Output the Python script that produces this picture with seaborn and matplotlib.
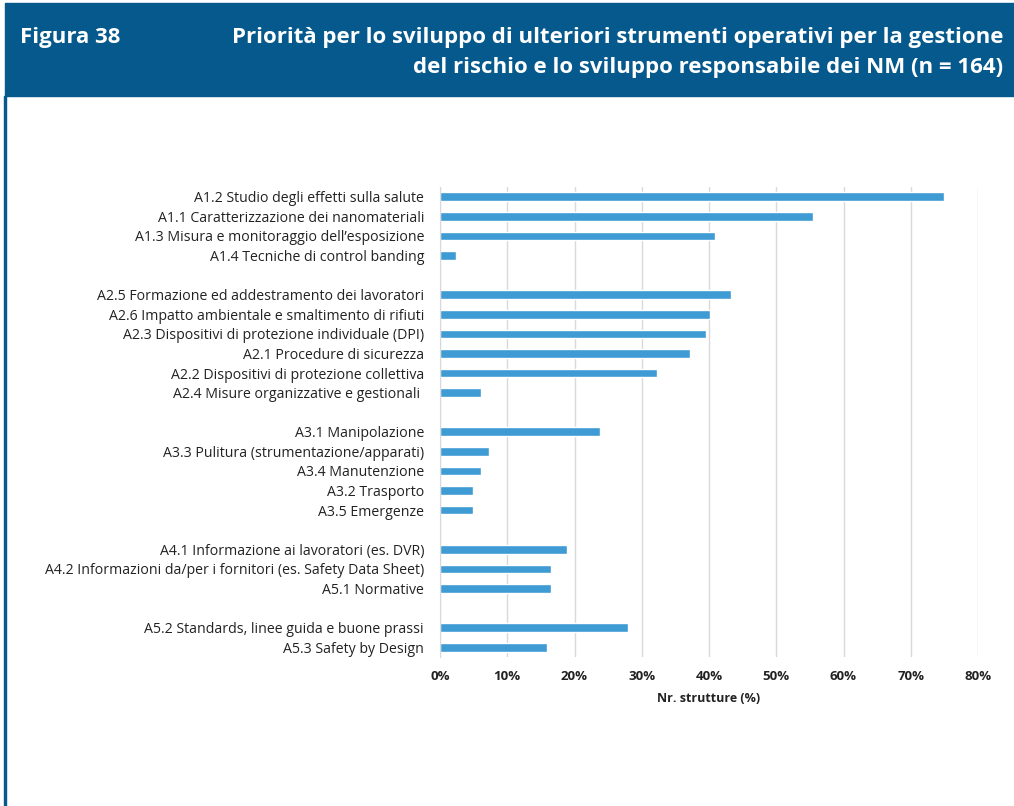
import numpy as np
import pandas as pd
import matplotlib
matplotlib.use('Agg')
import matplotlib.pyplot as plt
import seaborn as sns
from matplotlib.patches import Rectangle
from matplotlib.ticker import PercentFormatter

# Dati: categorie per gruppo (A1..A5) e percentuali
gruppo_a1 = ['A1.2 Studio degli effetti sulla salute',
             'A1.1 Caratterizzazione dei nanomateriali',
             'A1.3 Misura e monitoraggio dell\u2019esposizione',
             'A1.4 Tecniche di control banding']
valori_a1 = [75.0, 55.5, 40.9, 2.4]

gruppo_a2 = ['A2.5 Formazione ed addestramento dei lavoratori',
             'A2.6 Impatto ambientale e smaltimento di rifiuti',
             'A2.3 Dispositivi di protezione individuale (DPI)',
             'A2.1 Procedure di sicurezza',
             'A2.2 Dispositivi di protezione collettiva',
             'A2.4 Misure organizzative e gestionali ']
valori_a2 = [43.3, 40.2, 39.6, 37.2, 32.3, 6.1]

gruppo_a3 = ['A3.1 Manipolazione',
             'A3.3 Pulitura (strumentazione/apparati)',
             'A3.4 Manutenzione',
             'A3.2 Trasporto',
             'A3.5 Emergenze']
valori_a3 = [23.8, 7.3, 6.1, 4.9, 4.9]

gruppo_a4 = ['A4.1 Informazione ai lavoratori (es. DVR)',
             'A4.2 Informazioni da/per i fornitori (es. Safety Data Sheet)',
             'A5.1 Normative']
valori_a4 = [18.9, 16.5, 16.5]

gruppo_a5 = ['A5.2 Standards, linee guida e buone prassi',
             'A5.3 Safety by Design']
valori_a5 = [28.0, 15.9]

gruppi = [(gruppo_a1, valori_a1), (gruppo_a2, valori_a2), (gruppo_a3, valori_a3),
          (gruppo_a4, valori_a4), (gruppo_a5, valori_a5)]

# ordine con righe vuote tra i gruppi
ordine = []
etichette = []
righe = []
for i, (cat, val) in enumerate(gruppi):
    if i > 0:
        ordine.append('_vuoto%d' % i)
        etichette.append('')
    for c, v in zip(cat, val):
        ordine.append(c)
        etichette.append(c)
        righe.append({'voce': c, 'perc': v})
df = pd.DataFrame(righe)

sns.set_style('white')
plt.rcParams['font.family'] = ['Open Sans', 'DejaVu Sans']

W, H = 1014, 806
fig = plt.figure(figsize=(W / 100, H / 100), dpi=100)

# intestazione
blu = '#05598C'
fig.add_artist(Rectangle((5 / W, 1 - 96 / H), 1 - 5 / W, 93 / H,
                         transform=fig.transFigure, color=blu, zorder=0))
fig.add_artist(Rectangle((4 / W, 0), 2 / W, 1 - 96 / H,
                         transform=fig.transFigure, color=blu, zorder=0))
fig.text(20 / W, 1 - 38 / H, 'Figura 38', color='white', fontsize=16,
         fontweight='bold', va='center', ha='left')
fig.text(1003 / W, 1 - 38 / H,
         'Priorità per lo sviluppo di ulteriori strumenti operativi per la gestione',
         color='white', fontsize=16, fontweight='bold', va='center', ha='right')
fig.text(1003 / W, 1 - 67 / H,
         'del rischio e lo sviluppo responsabile dei NM (n = 164)',
         color='white', fontsize=16, fontweight='bold', va='center', ha='right')

# grafico
ax = fig.add_axes([440 / W, 1 - 657 / H, (978 - 440) / W, (657 - 187) / H])
sns.barplot(data=df, x='perc', y='voce', order=ordine, color='#3E9BD4',
            width=0.44, saturation=1, ax=ax)
ax.set_xlim(0, 80)
ax.set_xticks(np.arange(0, 81, 10))
ax.xaxis.set_major_formatter(PercentFormatter(decimals=0))
ax.set_yticks(range(len(ordine)))
ax.set_yticklabels(etichette)
ax.tick_params(axis='y', length=0, pad=11.5, labelsize=10.2, labelcolor='#222222')
ax.tick_params(axis='x', length=0, pad=9, labelsize=9.5, labelcolor='#222222')
for t in ax.get_xticklabels():
    t.set_fontweight('bold')
ax.grid(axis='x', color='#d9d9d9', linewidth=1)
ax.set_axisbelow(True)
for s in ['top', 'right', 'bottom']:
    ax.spines[s].set_visible(False)
ax.spines['left'].set_color('#d9d9d9')
ax.set_ylabel('')
ax.set_xlabel('Nr. strutture (%)', fontsize=9, fontweight='bold',
              color='#222222', labelpad=7)

fig.savefig('out.png', dpi=100)
